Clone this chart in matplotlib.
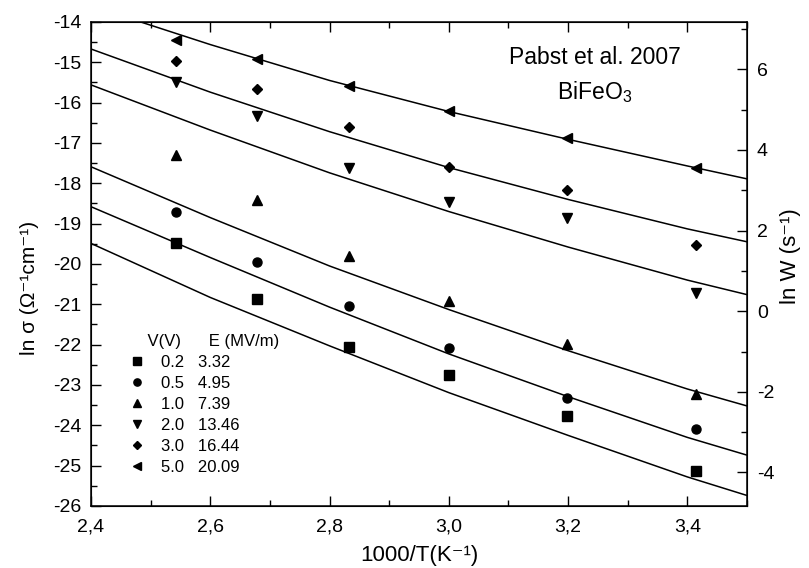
import matplotlib
matplotlib.use("Agg")
import matplotlib.pyplot as plt
from matplotlib.ticker import MultipleLocator, FuncFormatter

plt.rcParams['font.family'] = ['Liberation Sans', 'DejaVu Sans']
plt.rcParams['mathtext.fontset'] = 'custom'
plt.rcParams['mathtext.rm'] = 'Liberation Sans'
plt.rcParams['mathtext.it'] = 'Liberation Sans:italic'

# measured points: 1000/T and ln sigma for each applied voltage
inv_temp = [2.542, 2.679, 2.832, 3.0, 3.198, 3.414]
voltages = [0.2, 0.5, 1.0, 2.0, 3.0, 5.0]
fields = [3.32, 4.95, 7.39, 13.46, 16.44, 20.09]
markers = ['s', 'o', '^', 'v', 'D', '<']

ln_sigma_02 = [-19.49, -20.87, -22.07, -22.76, -23.77, -25.13]
ln_sigma_05 = [-18.70, -19.94, -21.03, -22.08, -23.33, -24.08]
ln_sigma_10 = [-17.30, -18.41, -19.80, -20.93, -21.99, -23.22]
ln_sigma_20 = [-15.48, -16.33, -17.63, -18.47, -18.87, -20.73]
ln_sigma_30 = [-14.97, -15.67, -16.60, -17.60, -18.17, -19.53]
ln_sigma_50 = [-14.45, -14.92, -15.59, -16.21, -16.87, -17.63]
points = [ln_sigma_02, ln_sigma_05, ln_sigma_10, ln_sigma_20, ln_sigma_30, ln_sigma_50]

# model curves
curve_x = [2.4, 2.6, 2.8, 3.0, 3.2, 3.4, 3.5]
curve_02 = [-19.49, -20.83, -22.03, -23.19, -24.25, -25.28, -25.74]
curve_05 = [-18.58, -19.84, -21.07, -22.23, -23.29, -24.30, -24.74]
curve_10 = [-17.59, -18.85, -20.05, -21.13, -22.15, -23.10, -23.52]
curve_20 = [-15.56, -16.68, -17.74, -18.70, -19.58, -20.40, -20.76]
curve_30 = [-14.67, -15.74, -16.72, -17.61, -18.40, -19.13, -19.45]
curve_50 = [-13.60, -14.56, -15.45, -16.22, -16.91, -17.57, -17.89]
curves = [curve_02, curve_05, curve_10, curve_20, curve_30, curve_50]

# ln W = ln sigma + offset (right axis)
lnW_offset = 21.17

fig = plt.figure(figsize=(8.09, 5.68), dpi=100)
ax = fig.add_axes([0.1125, 0.1092, 0.8109, 0.8521])

for c in curves:
    ax.plot(curve_x, c, color='black', lw=1.1)

handles = []
for y, m, v, e in zip(points, markers, voltages, fields):
    ms = 5.5 if m == 'D' else 6.5
    h, = ax.plot(inv_temp, y, linestyle='none', marker=m, color='black', ms=ms,
                 label=f"{v:.1f}   {e:.2f}")
    handles.append(h)

ax.set_xlim(2.4, 3.5)
ax.set_ylim(-26, -14)
ax.xaxis.set_major_locator(MultipleLocator(0.2))
ax.xaxis.set_minor_locator(MultipleLocator(0.1))
ax.yaxis.set_major_locator(MultipleLocator(1))
ax.yaxis.set_minor_locator(MultipleLocator(0.5))
ax.xaxis.set_major_formatter(FuncFormatter(lambda v, p: f"{v:.1f}".replace('.', ',')))
ax.yaxis.set_major_formatter(FuncFormatter(lambda v, p: f"{v:.0f}"))
ax.tick_params(which='both', direction='in', top=True, right=False, labelsize=14, width=1.0)
ax.tick_params(which='major', length=7, pad=7)
ax.tick_params(which='minor', length=4)
ax.tick_params(axis='x', which='major', pad=9)
for s in ax.spines.values():
    s.set_linewidth(1.1)

ax.set_xlabel('1000/T(K⁻¹)', fontsize=16)
ax.xaxis.set_label_coords(0.5, -0.08)
ax.set_ylabel('ln σ (Ω⁻¹cm⁻¹)', fontsize=15)
ax.yaxis.set_label_coords(-0.08, 0.45)

ax2 = ax.twinx()
ax2.set_ylim(-26 + lnW_offset, -14 + lnW_offset)
ax2.yaxis.set_major_locator(MultipleLocator(2))
ax2.yaxis.set_minor_locator(MultipleLocator(1))
ax2.yaxis.set_major_formatter(FuncFormatter(lambda v, p: f"{v:.0f}"))
ax2.tick_params(which='both', direction='in', labelsize=14, width=1.0)
ax2.tick_params(which='major', length=7, pad=7)
ax2.tick_params(which='minor', length=4)
ax2.set_ylabel('ln W (s⁻¹)', fontsize=16)
ax2.yaxis.set_label_coords(1.05, 0.517)

ax.text(0.768, 0.926, 'Pabst et al. 2007', transform=ax.transAxes,
        ha='center', va='center', fontsize=16.5)
ax.text(0.768, 0.855, 'BiFeO$_{\\mathregular{3}}$', transform=ax.transAxes,
        ha='center', va='center', fontsize=16.5)

leg = ax.legend(handles=handles, loc='upper left', bbox_to_anchor=(0.058, 0.356),
                frameon=False, fontsize=12, title='    V(V)      E (MV/m)',
                title_fontsize=12, alignment='left', handlelength=1.0,
                handletextpad=0.9, labelspacing=0.36, borderpad=0, borderaxespad=0,
                markerscale=0.8)

fig.savefig('out.png', dpi=100)
